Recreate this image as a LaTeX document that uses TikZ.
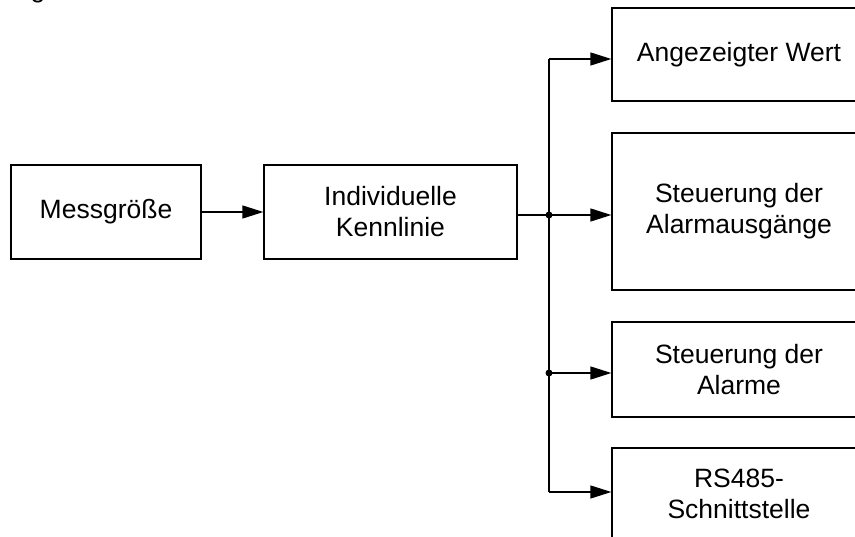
\documentclass[tikz,border=0pt]{standalone}
\usepackage{fontspec}
\setmainfont{Liberation Sans}
\usetikzlibrary{arrows.meta}
\begin{document}
\begin{tikzpicture}[x=1pt,y=-1pt,
  txt/.style={font=\fontsize{26.5}{31}\selectfont},
  box/.style={draw, line width=1.3pt, inner sep=0pt, align=center, txt},
  wire/.style={line width=1.3pt},
  conn/.style={wire, -{Triangle[length=21pt,width=13pt]}},
  jdot/.style={circle, fill, inner sep=0pt, minimum size=7pt}]
\useasboundingbox (0,0) rectangle (855,537);
\clip (0,0) rectangle (855,537);
\node[txt, anchor=base, inner sep=0pt] (g) at (38,-2.6) {g};
\node[box, minimum width=190pt, minimum height=94pt] (mess) at (106,212) {Messgröße};
\node[box, minimum width=253pt, minimum height=94pt] (kenn) at (390.5,212) {Individuelle\\Kennlinie};
\node[box, minimum width=254pt, minimum height=93pt] (ang) at (739,54.5) {Angezeigter Wert};
\node[box, minimum width=254pt, minimum height=157pt] (steu) at (739,211.5) {Steuerung der\\Alarmausgänge};
\node[box, minimum width=254pt, minimum height=95pt] (alarm) at (739,369.5) {Steuerung der\\Alarme};
\node[box, minimum width=254pt, minimum height=92pt] (rs) at (739,494) {RS485-\\Schnittstelle};
\coordinate (j1) at (549,59);
\coordinate (j2) at (549,215);
\coordinate (j3) at (549,373);
\coordinate (j4) at (549,492);
\draw[conn] (mess) -- (kenn);
\draw[wire] (j1) -- (j4);
\draw[conn] (kenn.east |- j2) -- (steu.west |- j2);
\draw[conn] (j1) -- (ang.west |- j1);
\draw[conn] (j3) -- (alarm.west |- j3);
\draw[conn] (j4) -- (rs.west |- j4);
\node[jdot] (d2) at (j2) {};
\node[jdot] (d3) at (j3) {};
\end{tikzpicture}
\end{document}
